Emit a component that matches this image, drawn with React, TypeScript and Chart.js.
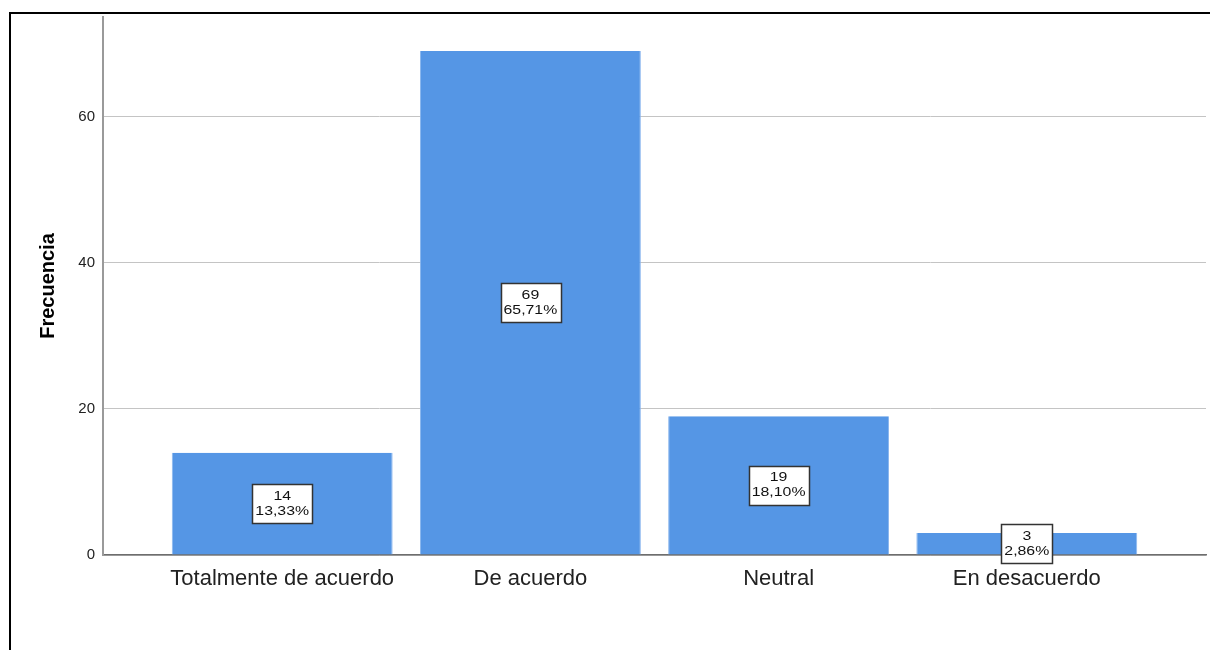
import React, { useEffect, useRef } from "react";
import { Chart, registerables } from "chart.js";

Chart.register(...registerables);

const CATEGORIES = ["Totalmente de acuerdo", "De acuerdo", "Neutral", "En desacuerdo"];
const FREQUENCIES = [14, 69, 19, 3];
const Y_TICKS = [0, 20, 40, 60];
const Y_TITLE = "Frecuencia";

const TOTAL = FREQUENCIES.reduce((a, b) => a + b, 0);
const PERCENT_LABELS = FREQUENCIES.map((v) => ((v / TOTAL) * 100).toFixed(2).replace(".", ",") + "%");

const FONT = "'Liberation Sans', Arial, sans-serif";

const framePlugin = {
  id: "frame",
  afterDraw(chart: any) {
    const ctx = chart.ctx;
    ctx.save();
    ctx.strokeStyle = "#000";
    ctx.lineWidth = 2;
    ctx.beginPath();
    ctx.moveTo(10, 650);
    ctx.lineTo(10, 13);
    ctx.lineTo(1210, 13);
    ctx.stroke();
    ctx.restore();
  },
};

const boxLabelPlugin = {
  id: "boxLabels",
  afterDatasetsDraw(chart: any) {
    const ctx = chart.ctx;
    const meta = chart.getDatasetMeta(0);
    const sx = 1.22;
    ctx.save();
    ctx.font = `13px ${FONT}`;
    meta.data.forEach((bar: any, i: number) => {
      const l1 = String(FREQUENCIES[i]);
      const l2 = PERCENT_LABELS[i];
      const w = Math.max(ctx.measureText(l1).width, ctx.measureText(l2).width) * sx + 6;
      const h = 39;
      const cx = bar.x;
      const cy = (bar.y + bar.base) / 2;
      ctx.fillStyle = "#fff";
      ctx.fillRect(Math.round(cx - w / 2) + 0.5, Math.round(cy - h / 2) + 0.5, Math.round(w), h);
      ctx.strokeStyle = "#333";
      ctx.lineWidth = 1.5;
      ctx.strokeRect(Math.round(cx - w / 2) + 0.5, Math.round(cy - h / 2) + 0.5, Math.round(w), h);
      ctx.fillStyle = "#111";
      ctx.textAlign = "center";
      ctx.textBaseline = "middle";
      [l1, l2].forEach((t, k) => {
        ctx.save();
        ctx.translate(cx, cy - 7.5 + k * 15);
        ctx.scale(sx, 1);
        ctx.fillText(t, 0, 0);
        ctx.restore();
      });
    });
    ctx.restore();
  },
};

export default function App() {
  const ref = useRef<HTMLCanvasElement>(null);
  useEffect(() => {
    if (!ref.current) return;
    const chart = new Chart(ref.current, {
      type: "bar",
      data: {
        datasets: [
          {
            data: FREQUENCIES.map((v, i) => ({ x: i, y: v })),
            backgroundColor: "#5596E5",
            borderColor: "#8ab6ee",
            borderWidth: { left: 1, right: 1, top: 0, bottom: 0 },
            barPercentage: 0.89,
            categoryPercentage: 1,
          },
        ],
      },
      options: {
        animation: false,
        responsive: false,
        maintainAspectRatio: false,
        layout: { padding: { left: 0, top: 17, right: 4, bottom: 0 } },
        plugins: { legend: { display: false }, tooltip: { enabled: false } },
        scales: {
          x: {
            type: "linear",
            offset: false,
            bounds: "ticks",
            min: -0.722,
            max: 3.722,
            afterDataLimits: (s: any) => {
              s.min = -0.722;
              s.max = 3.722;
            },
            afterBuildTicks: (s: any) => {
              s.ticks = CATEGORIES.map((_, i) => ({ value: i }));
            },
            afterFit: (s: any) => {
              s.height = 95;
            },
            grid: { display: false, drawTicks: false, offset: false },
            border: { display: true, color: "#6e6e6e", width: 1.5 },
            ticks: {
              padding: 11,
              autoSkip: false,
              maxRotation: 0,
              color: "#222",
              font: { family: FONT, size: 22 },
              callback: (v: any) => CATEGORIES[v] ?? "",
            },
          },
          y: {
            min: 0,
            max: 73.65,
            afterBuildTicks: (s: any) => {
              s.ticks = Y_TICKS.map((v) => ({ value: v }));
            },
            afterFit: (s: any) => {
              s.width = 103;
            },
            grid: { color: "#c4c4c4", lineWidth: 1, drawTicks: false },
            border: { display: true, color: "#9a9a9a", width: 2 },
            ticks: {
              padding: 8,
              color: "#222",
              font: { family: FONT, size: 15 },
            },
            title: {
              display: true,
              text: Y_TITLE,
              color: "#000",
              font: { family: FONT, size: 20, weight: "bold" },
              padding: { top: 36, bottom: 0 },
            },
          },
        },
      },
      plugins: [boxLabelPlugin, framePlugin],
    } as any);
    return () => chart.destroy();
  }, []);
  return (
    <div style={{ position: "fixed", left: 0, top: 0, width: 1210, height: 650, background: "#fff" }}>
      <canvas ref={ref} width={1210} height={650} style={{ width: 1210, height: 650 }} />
    </div>
  );
}
